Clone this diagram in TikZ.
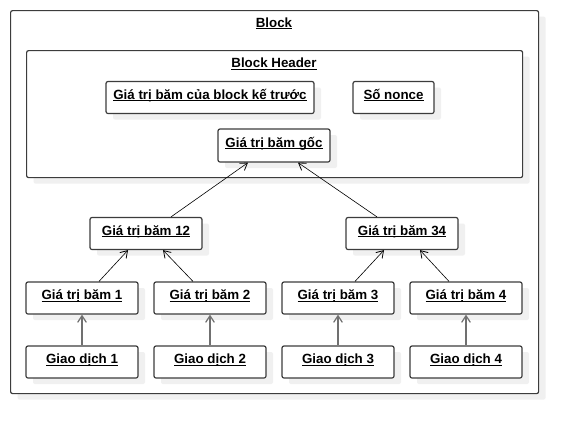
\documentclass[tikz,border=0pt]{standalone}
\usepackage{fontspec}
\setmainfont{Liberation Sans}
\usetikzlibrary{arrows.meta,shadows}
\newcommand\myul[1]{\setbox0=\hbox{#1}\rlap{\rule[-1.5pt]{\wd0}{0.65pt}}\box0}
\definecolor{shadowc}{HTML}{F0F0F0}
\definecolor{edgec}{HTML}{3C3C3C}
\definecolor{arrc}{HTML}{707070}
\tikzset{
  boxbase/.style={draw=edgec, line width=0.9pt, rounded corners=1.5pt, fill=white,
    inner sep=0pt, font=\bfseries\fontsize{10}{12}\selectfont,
    text height=7pt, text depth=4.3pt,
    drop shadow={shadow xshift=5.25pt, shadow yshift=-4.5pt, fill=shadowc, opacity=1}},
  hashbox/.style={boxbase, minimum width=84pt, minimum height=24pt},
  title/.style={inner sep=0pt, font=\bfseries\fontsize{10}{12}\selectfont, text height=7pt, text depth=4.3pt},
  thinarr/.style={draw=black, line width=0.45pt, -{Straight Barb[length=5pt,width=6.5pt,line width=0.6pt]}},
  thickarr/.style={draw=arrc, line width=1.3pt, -{Straight Barb[length=5pt,width=6.5pt,line width=0.9pt]}}
}
\begin{document}
\begin{tikzpicture}[x=0.75pt,y=-0.75pt]
\useasboundingbox[fill=white] (0,0) rectangle (578,433);
% outer block
\node[boxbase, minimum width=396pt, minimum height=287.25pt, anchor=north west] (block) at (10,10) {};
\node[title] (blocktitle) at (274,25.5) {\myul{Block}};
% header
\node[boxbase, minimum width=372pt, minimum height=95.25pt, anchor=north west] (header) at (26,50) {};
\node[title] (headertitle) at (274,66) {\myul{Block Header}};
\node[boxbase, minimum width=156pt, minimum height=24pt] (prev) at (210,97.5) {\myul{Giá trị băm của block kế trước}};
\node[boxbase, minimum width=60.75pt, minimum height=24pt] (nonce) at (393.5,97.5) {\myul{Số nonce}};
\node[boxbase, minimum width=84pt, minimum height=24.75pt] (root) at (274,145.5) {\myul{Giá trị băm gốc}};
% level 2
\node[hashbox] (h12) at (146,233.5) {\myul{Giá trị băm 12}};
\node[hashbox] (h34) at (402,233.5) {\myul{Giá trị băm 34}};
% level 1
\node[hashbox] (h1) at (82,298) {\myul{Giá trị băm 1}};
\node[hashbox] (h2) at (210,298) {\myul{Giá trị băm 2}};
\node[hashbox] (h3) at (338,298) {\myul{Giá trị băm 3}};
\node[hashbox] (h4) at (466,298) {\myul{Giá trị băm 4}};
% transactions
\node[hashbox] (g1) at (82,362) {\myul{Giao dịch 1}};
\node[hashbox] (g2) at (210,362) {\myul{Giao dịch 2}};
\node[hashbox] (g3) at (338,362) {\myul{Giao dịch 3}};
\node[hashbox] (g4) at (466,362) {\myul{Giao dịch 4}};
% arrows
\draw[thinarr] ([xshift=18.75pt]h12.north) -- ([xshift=-19.5pt]root.south);
\draw[thinarr] ([xshift=-18.75pt]h34.north) -- ([xshift=18pt]root.south);
\draw[thinarr] ([xshift=12.75pt]h1.north) -- ([xshift=-13.5pt]h12.south);
\draw[thinarr] ([xshift=-12.75pt]h2.north) -- ([xshift=12.75pt]h12.south);
\draw[thinarr] ([xshift=12.75pt]h3.north) -- ([xshift=-13.5pt]h34.south);
\draw[thinarr] ([xshift=-12.75pt]h4.north) -- ([xshift=13.5pt]h34.south);
\draw[thickarr] (g1.north) -- (h1.south);
\draw[thickarr] (g2.north) -- (h2.south);
\draw[thickarr] (g3.north) -- (h3.south);
\draw[thickarr] (g4.north) -- (h4.south);
\end{tikzpicture}
\end{document}
